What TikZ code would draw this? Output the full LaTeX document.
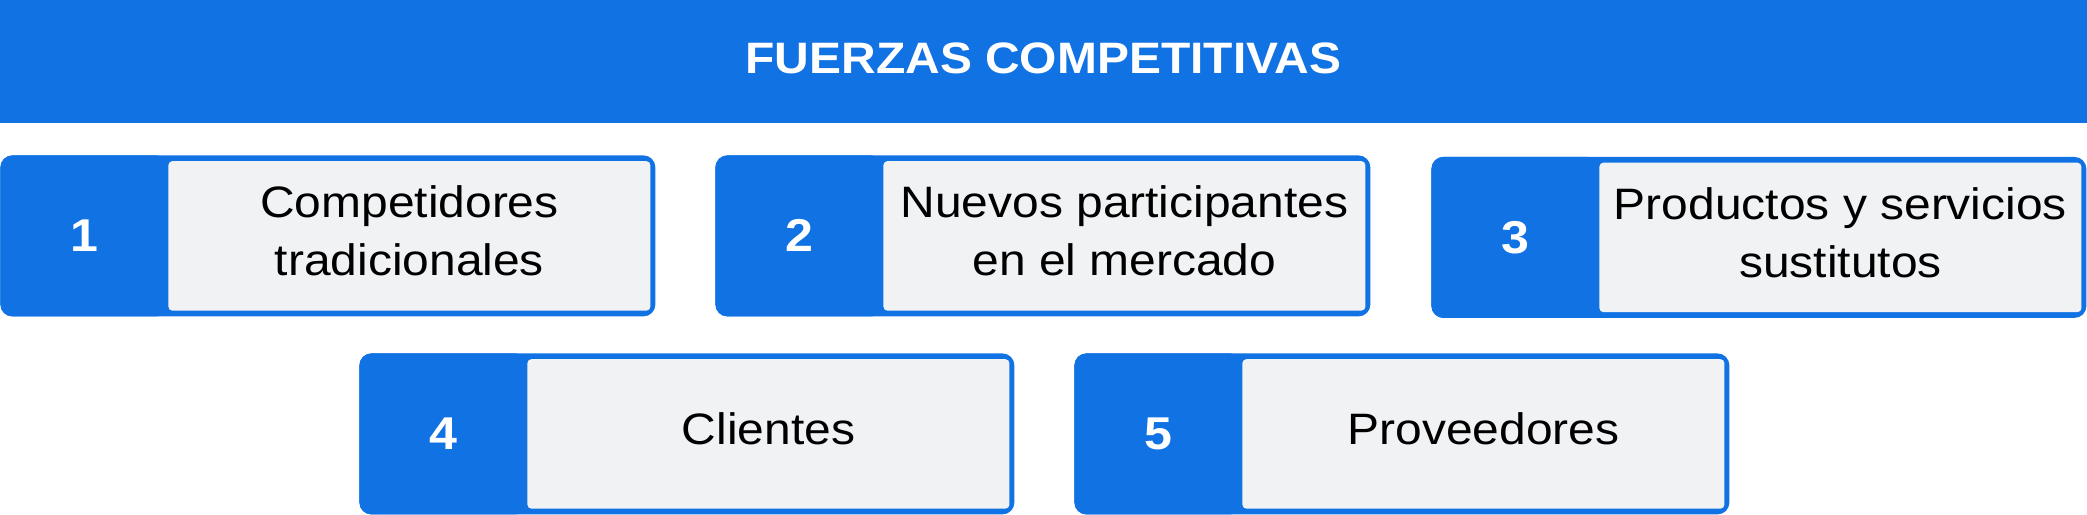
\documentclass[tikz,border=0pt]{standalone}
\usepackage{fontspec}
\setmainfont{Liberation Sans}[FakeStretch=1.09]
\usepackage[svgnames]{xcolor}
\usepackage{tikz}
\usetikzlibrary{
    positioning
}
\definecolor{fzblue}{RGB}{17,114,227}
\definecolor{fzgray}{RGB}{241,242,244}
\tikzset{
    bar/.style={fill=fzblue, inner sep=0pt, anchor=north west,
        minimum width=1043.5pt, minimum height=61.5pt},
    heading/.style={text=white, inner sep=0pt,
        font=\fontsize{22}{27}\selectfont\bfseries},
    outerbox/.style={fill=fzblue, rounded corners=6pt, inner sep=0pt,
        anchor=north west, minimum width=327.5pt, minimum height=80.5pt},
    textbody/.style={fill=fzgray, rounded corners=2pt, inner sep=0pt,
        minimum width=241pt, minimum height=74.75pt, align=center,
        text depth=5pt, font=\fontsize{22}{29}\selectfont},
    numtab/.style={fill=fzblue, rounded corners=6pt, inner sep=0pt,
        minimum width=84pt, minimum height=80.5pt, text=white,
        font=\fontsize{23}{27}\selectfont\bfseries}
}
\begin{document}
\begin{tikzpicture}[x=0.5pt,y=-0.5pt]
    \useasboundingbox (0,0) rectangle (2087,514);
    \node[bar] (hdr) at (0,0) {};
    \node[heading] (title) at (1043.5,58) {FUERZAS COMPETITIVAS};
    \foreach \n/\x/\y/\txt in {
        1/0/155/{Competidores\\tradicionales},
        2/715/155/{Nuevos participantes\\en el mercado},
        3/1431/156.5/{Productos y servicios\\sustitutos},
        4/359/353/{Clientes},
        5/1074/353/{Proveedores}}{
      \node[outerbox] (box\n) at (\x,\y) {};
      \node[numtab, right=0pt of box\n.west] (num\n) {\n};
      \node[textbody, left=2.5pt of box\n.east] (txt\n) {\txt};
    }
\end{tikzpicture}
\end{document}
